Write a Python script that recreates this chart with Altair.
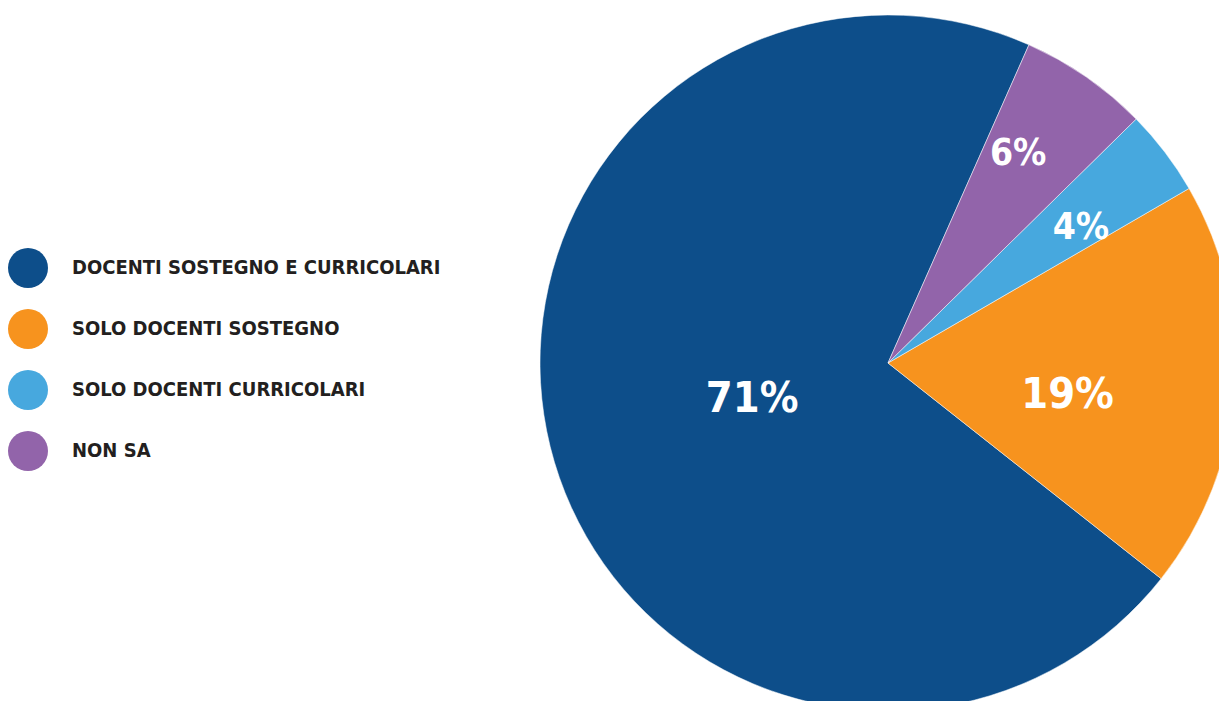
import altair as alt
import pandas as pd

categories = ["DOCENTI SOSTEGNO E CURRICOLARI", "SOLO DOCENTI SOSTEGNO",
              "SOLO DOCENTI CURRICOLARI", "NON SA"]
values = [71, 19, 4, 6]
labels = ["71%", "19%", "4%", "6%"]
pie_order = [3, 2, 1, 0]
colors = ["#0d4e8a", "#f7931e", "#47a8de", "#9264aa"]

df = pd.DataFrame({"cat": categories, "value": values, "label": labels, "ord": pie_order})

FONT = "DejaVu Sans Condensed, Roboto, sans-serif"
start = 0.417
theta = alt.Theta("value:Q", stack=True,
                  scale=alt.Scale(range=[start, start + 6.283185307]))
color = alt.Color("cat:N", scale=alt.Scale(domain=categories, range=colors),
                  legend=alt.Legend(orient="none", legendX=0, legendY=240,
                                    title=None, symbolType="circle",
                                    symbolSize=1600, symbolStrokeWidth=0,
                                    symbolOpacity=1,
                                    labelFont=FONT,
                                    labelFontSize=20, labelFontWeight="bold",
                                    labelColor="#231f20", labelOffset=24,
                                    rowPadding=21, labelLimit=700))
order = alt.Order("ord:Q")

cx, cy = 880, 355

pie = alt.Chart(df).mark_arc(outerRadius=348, stroke="#ffffff", strokeWidth=0.5).encode(
    theta=theta, color=color, order=order,
    x=alt.value(cx), y=alt.value(cy))


def label_layer(lab, radius, size, dx=0, dy=0):
    return alt.Chart(df).mark_text(
        font=FONT, fontWeight="bold", color="white", fontSize=size,
        baseline="middle", align="center", radius=radius, dx=dx, dy=dy
    ).encode(
        theta=theta, order=order,
        text=alt.condition(f"datum.label == '{lab}'", alt.Text("label:N"), alt.value("")),
        x=alt.value(cx), y=alt.value(cy))


texts = [
    label_layer("71%", 140, 43, 0, 2),
    label_layer("19%", 180, 43, 0, 19),
    label_layer("6%", 248, 37, -11, -5),
    label_layer("4%", 235, 37, 6, 7),
]

chart = alt.layer(pie, *texts).properties(
    width=1211, height=693, padding=0,
    autosize=alt.AutoSizeParams(type="none")
).configure_view(stroke=None)

chart.save("out.html", embed_options={"renderer": "svg", "actions": False})
